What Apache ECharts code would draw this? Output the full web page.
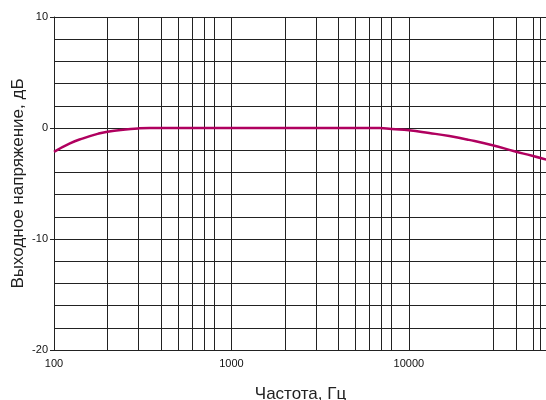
<!DOCTYPE html>
<html>
<head>
<meta charset="utf-8">
<script src="https://cdn.jsdelivr.net/npm/echarts@6/dist/echarts.min.js"></script>
<style>html,body{margin:0;padding:0;background:#fff;}#c{width:546px;height:400px;}</style>
</head>
<body>
<div id="c"></div>
<script>
var freqs = [100, 123, 146, 181, 200, 245, 302, 346, 500, 1000, 3000, 6850, 8000, 10000, 13000, 16900, 21800, 29600, 39300, 49500, 60000];
var levelDb = [-2.15, -1.38, -0.93, -0.48, -0.33, -0.15, -0.03, 0, 0, 0, 0, 0, -0.1, -0.2, -0.45, -0.73, -1.07, -1.55, -2.1, -2.5, -2.87];
var gridFreqs = [200, 300, 400, 500, 600, 700, 800, 2000, 3000, 4000, 5000, 6000, 7000, 8000, 30000, 40000, 50000, 55000];
var yLabels = [-20, -10, 0, 10];
var xTitle = 'Частота, Гц';
var yTitle = 'Выходное напряжение, дБ';

var gridColor = '#222';
var chart = echarts.init(document.getElementById('c'), null, {renderer: 'canvas'});
chart.setOption({
  animation: false,
  grid: {left: 54, top: 17, width: 493, height: 333, containLabel: false, outerBoundsMode: 'none'},
  xAxis: {
    type: 'log', logBase: 10, min: 100, max: 60000,
    name: xTitle, nameLocation: 'middle', nameGap: 36, nameMoveOverlap: false,
    nameTextStyle: {fontFamily: 'Liberation Sans', fontSize: 17, color: '#222'},
    axisLine: {show: true, lineStyle: {color: gridColor, width: 1}},
    axisTick: {show: false},
    axisLabel: {fontFamily: 'Liberation Sans', fontSize: 11, color: '#111', margin: 8,
      showMaxLabel: false,
      formatter: function (v) { return v >= 59999 ? '' : String(Math.round(v)); }},
    splitLine: {show: true, lineStyle: {color: gridColor, width: 1}},
    minorTick: {show: false}, minorSplitLine: {show: false}
  },
  yAxis: {
    type: 'value', min: -20, max: 10, interval: 10,
    name: yTitle, nameLocation: 'middle', nameGap: 27, nameRotate: 90, nameMoveOverlap: false,
    nameTextStyle: {fontFamily: 'Liberation Sans', fontSize: 17, color: '#222'},
    axisLine: {show: true, lineStyle: {color: gridColor, width: 1}},
    axisTick: {show: true, inside: false, length: 4, lineStyle: {color: gridColor}},
    axisLabel: {fontFamily: 'Liberation Sans', fontSize: 11, color: '#111', margin: 6,
      formatter: function (v) { return yLabels.indexOf(v) >= 0 ? String(v) : ''; }},
    splitLine: {show: true, lineStyle: {color: gridColor, width: 1}},
    minorTick: {show: false, splitNumber: 5},
    minorSplitLine: {show: true, lineStyle: {color: gridColor, width: 1}}
  },
  series: [{
    type: 'line',
    data: freqs.map(function (f, i) { return [f, levelDb[i]]; }),
    smooth: 0.5,
    showSymbol: false, symbol: 'none',
    lineStyle: {color: '#b0005f', width: 2.5},
    z: 5,
    markLine: {
      silent: true, symbol: 'none', animation: false,
      label: {show: false},
      lineStyle: {color: gridColor, width: 1, type: 'solid'},
      data: gridFreqs.map(function (f) { return {xAxis: f}; }),
      z: 1
    }
  }]
});
</script>
</body>
</html>
